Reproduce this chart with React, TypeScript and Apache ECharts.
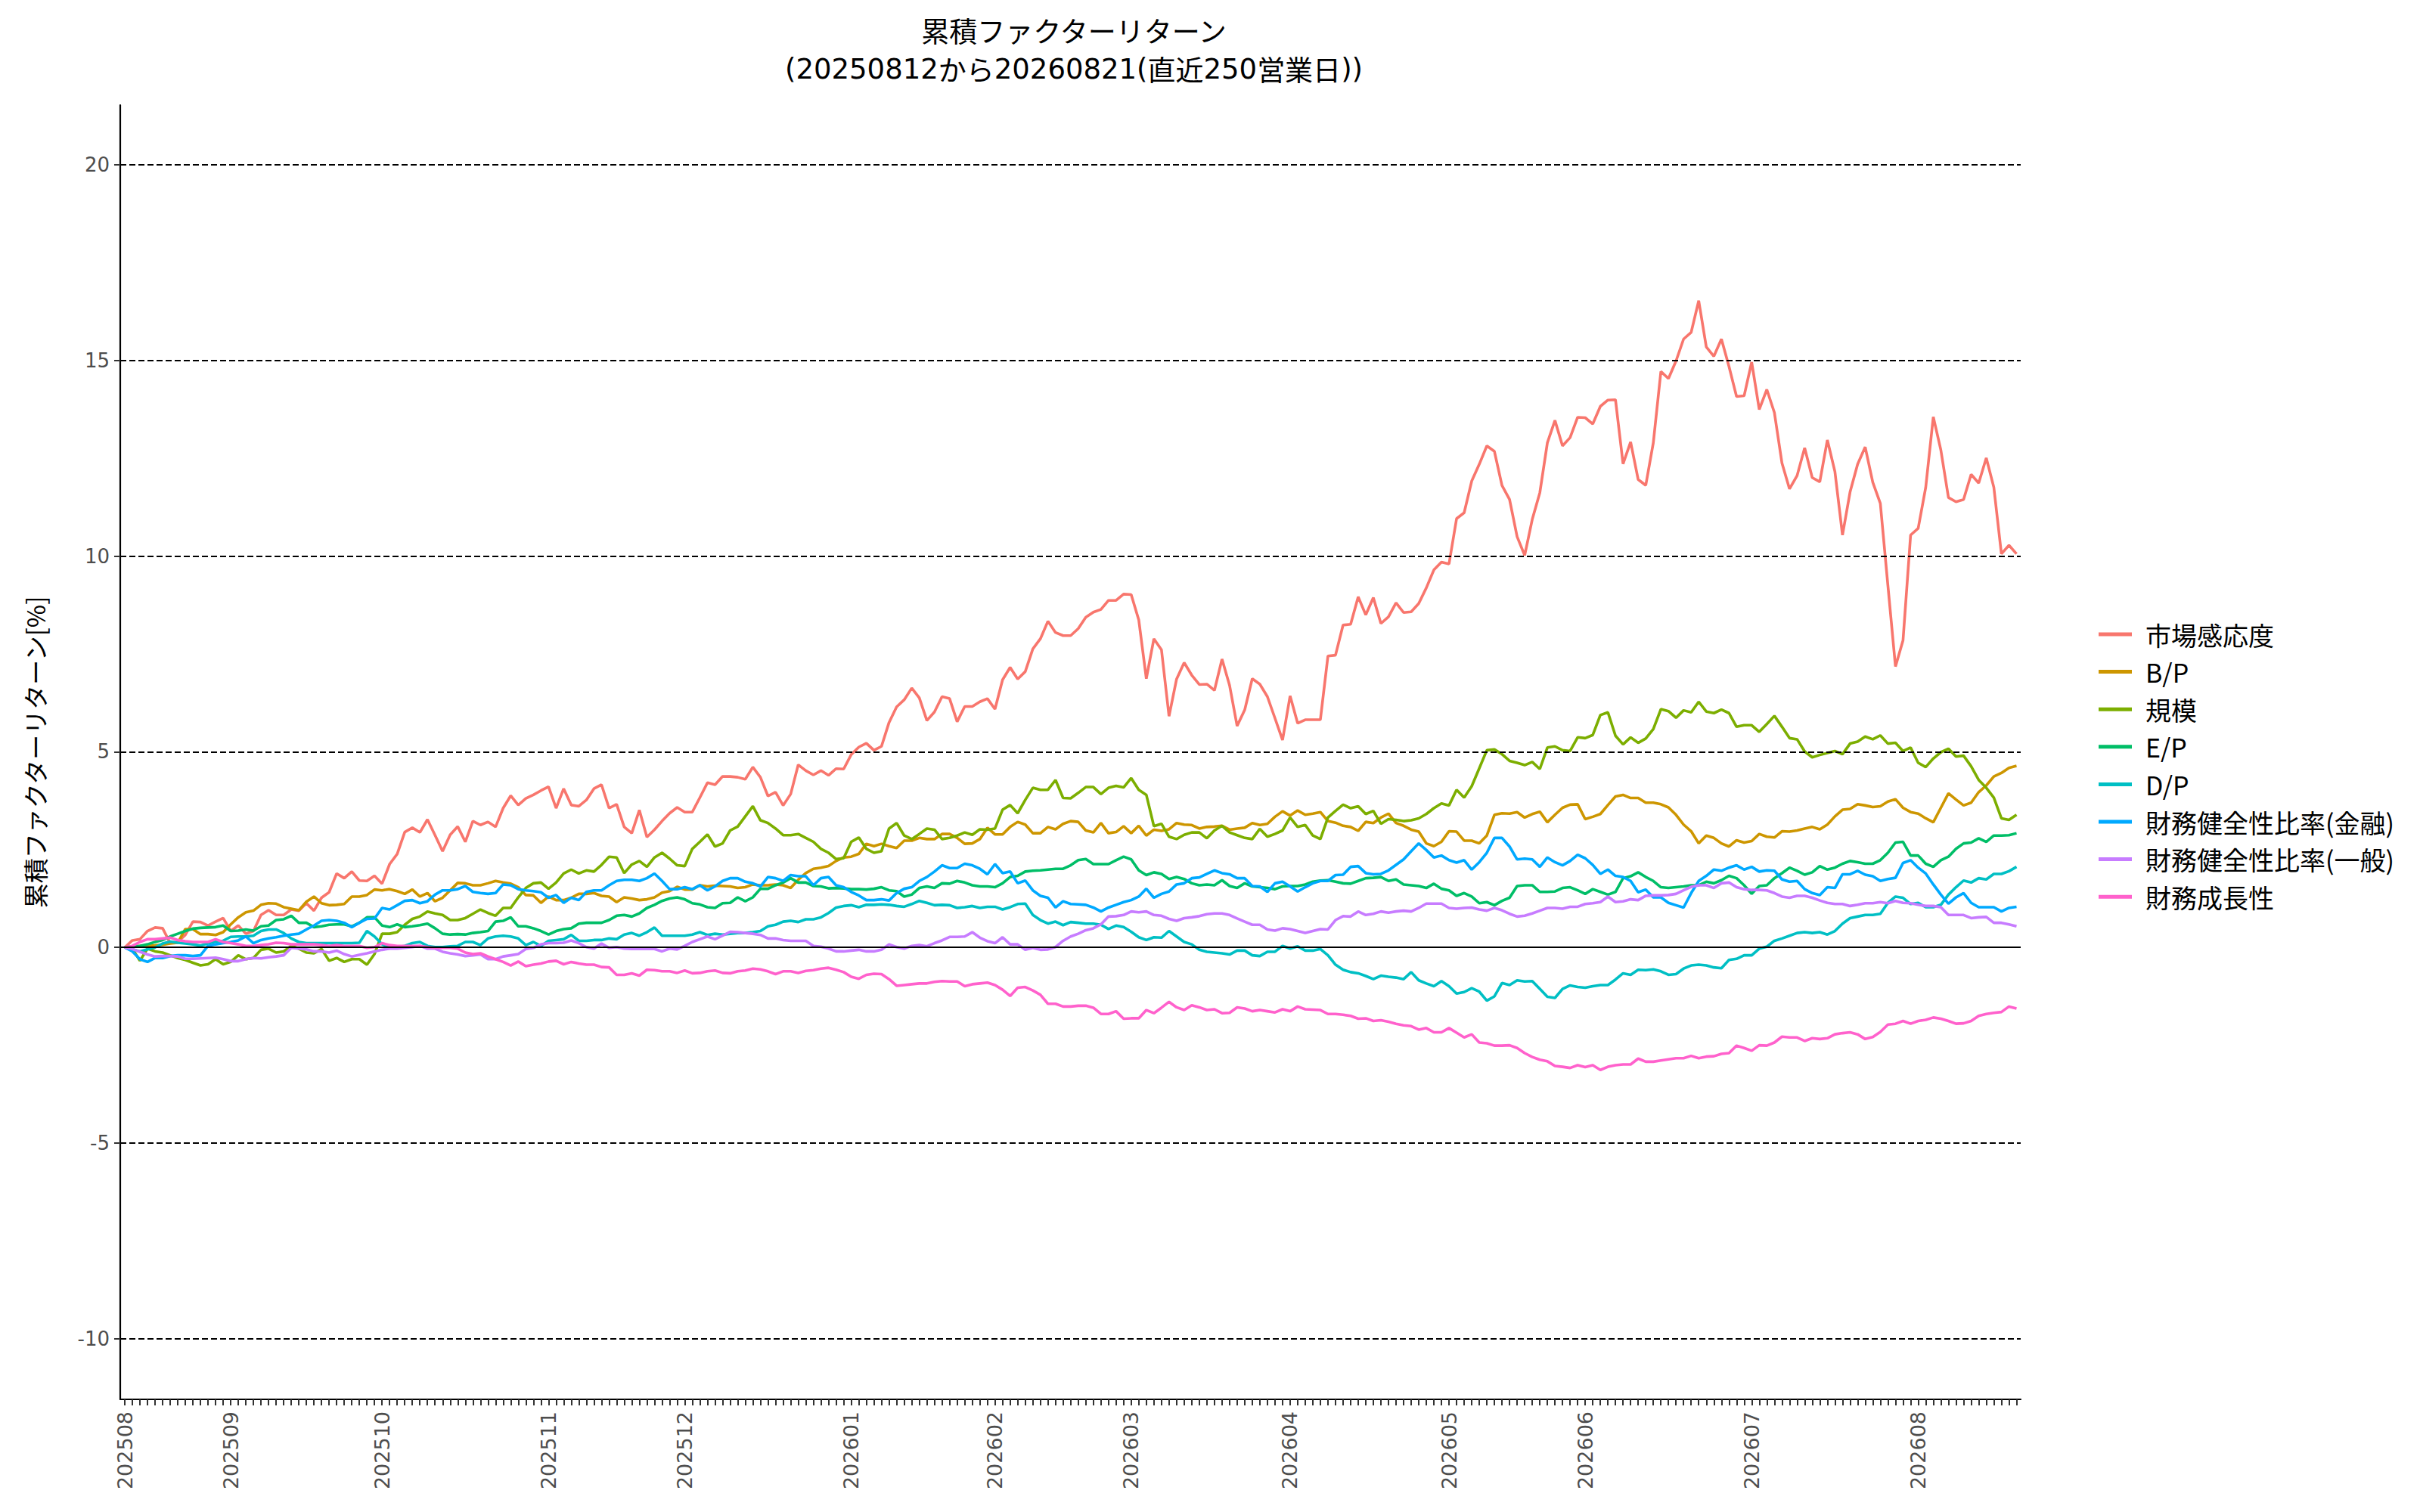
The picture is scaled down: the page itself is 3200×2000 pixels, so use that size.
import React, { useEffect, useRef } from "react";
import * as echarts from "echarts";

// business days per month (YYYYMM, day numbers)
const MONTH_DAYS: [string, number[]][] = [
  ["202508", [12, 13, 14, 15, 18, 19, 20, 21, 22, 25, 26, 27, 28, 29]],
  ["202509", [1, 2, 3, 4, 5, 8, 9, 10, 11, 12, 16, 17, 18, 19, 22, 24, 25, 26, 29, 30]],
  ["202510", [1, 2, 3, 6, 7, 8, 9, 10, 14, 15, 16, 17, 20, 21, 22, 23, 24, 27, 28, 29, 30, 31]],
  ["202511", [4, 5, 6, 7, 10, 11, 12, 13, 14, 17, 18, 19, 20, 21, 25, 26, 27, 28]],
  ["202512", [1, 2, 3, 4, 5, 8, 9, 10, 11, 12, 15, 16, 17, 18, 19, 22, 23, 24, 25, 26, 29, 30]],
  ["202601", [5, 6, 7, 8, 9, 13, 14, 15, 16, 19, 20, 21, 22, 23, 26, 27, 28, 29, 30]],
  ["202602", [2, 3, 4, 5, 6, 9, 10, 12, 13, 16, 17, 18, 19, 20, 24, 25, 26, 27]],
  ["202603", [2, 3, 4, 5, 6, 9, 10, 11, 12, 13, 16, 17, 18, 19, 23, 24, 25, 26, 27, 30, 31]],
  ["202604", [1, 2, 3, 6, 7, 8, 9, 10, 13, 14, 15, 16, 17, 20, 21, 22, 23, 24, 27, 28, 30]],
  ["202605", [1, 7, 8, 11, 12, 13, 14, 15, 18, 19, 20, 21, 22, 25, 26, 27, 28, 29]],
  ["202606", [1, 2, 3, 4, 5, 8, 9, 10, 11, 12, 15, 16, 17, 18, 19, 22, 23, 24, 25, 26, 29, 30]],
  ["202607", [1, 2, 3, 6, 7, 8, 9, 10, 13, 14, 15, 16, 17, 21, 22, 23, 24, 27, 28, 29, 30, 31]],
  ["202608", [3, 4, 5, 6, 7, 10, 12, 13, 14, 17, 18, 19, 20, 21]],
];

const TITLE_LINE1 = "累積ファクターリターン";
// second title line split into digit / CJK runs
const TITLE_LINE2_PARTS: [string, string][] = [
  ["d", "(20250812"],
  ["c", "から"],
  ["d", "20260821("],
  ["c", "直近"],
  ["d", "250"],
  ["c", "営業日"],
  ["d", "))"],
];
const Y_TITLE = "累積ファクターリターン[%]";

const SERIES_NAMES = [
  "市場感応度",
  "B/P",
  "規模",
  "E/P",
  "D/P",
  "財務健全性比率(金融)",
  "財務健全性比率(一般)",
  "財務成長性",
];
const SERIES_COLORS = ["#F8766D", "#CD9600", "#7CAE00", "#00BE67", "#00BFC4", "#00A9FF", "#C77CFF", "#FF61CC"];

const Y_TICKS = [-10, -5, 0, 5, 10, 15, 20];
const Y_GRID = [-10, -5, 5, 10, 15, 20];

const market = [
  0, 0.18, 0.21, 0.42, 0.51, 0.49, 0.11, 0.14, 0.32, 0.66,
  0.65, 0.56, 0.66, 0.75, 0.42, 0.56, 0.35, 0.42, 0.83, 0.95,
  0.83, 0.83, 0.97, 0.94, 1.13, 0.94, 1.27, 1.41, 1.89, 1.77,
  1.94, 1.71, 1.70, 1.83, 1.63, 2.13, 2.39, 2.95, 3.06, 2.94,
  3.27, 2.87, 2.46, 2.88, 3.09, 2.70, 3.23, 3.13, 3.21, 3.08,
  3.56, 3.88, 3.64, 3.81, 3.90, 4.01, 4.11, 3.56, 4.06, 3.64,
  3.61, 3.77, 4.06, 4.16, 3.56, 3.66, 3.08, 2.92, 3.51, 2.82,
  3.01, 3.23, 3.43, 3.58, 3.46, 3.46, 3.83, 4.21, 4.16, 4.37,
  4.37, 4.35, 4.30, 4.61, 4.35, 3.87, 3.97, 3.63, 3.92, 4.67,
  4.52, 4.41, 4.52, 4.40, 4.57, 4.56, 4.93, 5.12, 5.22, 5.04,
  5.14, 5.75, 6.15, 6.33, 6.63, 6.38, 5.80, 6.02, 6.41, 6.36,
  5.77, 6.16, 6.16, 6.28, 6.36, 6.09, 6.84, 7.16, 6.86, 7.05,
  7.63, 7.89, 8.34, 8.05, 7.97, 7.97, 8.15, 8.44, 8.57, 8.64,
  8.87, 8.87, 9.03, 9.02, 8.37, 6.87, 7.89, 7.61, 5.91, 6.86,
  7.28, 6.96, 6.72, 6.73, 6.57, 7.37, 6.70, 5.66, 6.07, 6.87,
  6.73, 6.41, 5.86, 5.30, 6.43, 5.73, 5.82, 5.82, 5.82, 7.45,
  7.47, 8.24, 8.26, 8.96, 8.50, 8.94, 8.28, 8.45, 8.81, 8.56,
  8.58, 8.79, 9.19, 9.65, 9.85, 9.80, 10.96, 11.11, 11.92, 12.35,
  12.82, 12.68, 11.81, 11.45, 10.50, 10.02, 10.94, 11.62, 12.90, 13.47,
  12.82, 13.03, 13.55, 13.54, 13.38, 13.83, 13.99, 14.00, 12.36, 12.92,
  11.96, 11.81, 12.90, 14.72, 14.54, 14.99, 15.55, 15.72, 16.53, 15.35,
  15.11, 15.55, 14.85, 14.08, 14.10, 14.96, 13.75, 14.26, 13.67, 12.38,
  11.72, 12.06, 12.77, 12.01, 11.90, 12.97, 12.16, 10.54, 11.64, 12.35,
  12.79, 11.89, 11.35, 9.25, 7.18, 7.85, 10.54, 10.71, 11.76, 13.56,
  12.71, 11.50, 11.39, 11.45, 12.09, 11.87, 12.51, 11.76, 10.06, 10.28,
  10.06,
];

const bp = [
  0, 0.03, 0.04, 0.04, 0.05, 0.07, 0.10, 0.12, 0.47, 0.47,
  0.34, 0.34, 0.32, 0.39, 0.59, 0.77, 0.90, 0.94, 1.09, 1.13,
  1.12, 1.03, 0.99, 0.95, 1.17, 1.30, 1.13, 1.08, 1.09, 1.11,
  1.30, 1.30, 1.34, 1.48, 1.46, 1.49, 1.44, 1.37, 1.48, 1.30,
  1.39, 1.18, 1.27, 1.46, 1.65, 1.64, 1.59, 1.59, 1.64, 1.70,
  1.66, 1.63, 1.54, 1.34, 1.33, 1.14, 1.30, 1.21, 1.21, 1.27,
  1.37, 1.37, 1.39, 1.32, 1.30, 1.16, 1.28, 1.25, 1.21, 1.23,
  1.28, 1.40, 1.44, 1.55, 1.48, 1.48, 1.59, 1.56, 1.58, 1.57,
  1.56, 1.52, 1.54, 1.61, 1.59, 1.59, 1.61, 1.59, 1.52, 1.73,
  1.90, 2.01, 2.04, 2.08, 2.21, 2.30, 2.32, 2.39, 2.65, 2.59,
  2.65, 2.59, 2.54, 2.73, 2.73, 2.80, 2.77, 2.77, 2.90, 2.90,
  2.80, 2.65, 2.66, 2.77, 3.06, 2.89, 2.89, 3.08, 3.21, 3.14,
  2.92, 2.92, 3.08, 3.02, 3.16, 3.23, 3.21, 2.99, 2.94, 3.18,
  2.92, 2.95, 3.10, 2.92, 3.11, 2.86, 3.01, 2.98, 3.02, 3.18,
  3.14, 3.13, 3.04, 3.08, 3.09, 3.11, 3.01, 3.04, 3.06, 3.18,
  3.13, 3.16, 3.34, 3.48, 3.37, 3.50, 3.39, 3.42, 3.46, 3.23,
  3.19, 3.11, 3.08, 2.98, 3.21, 3.18, 3.32, 3.42, 3.18, 3.11,
  3.01, 2.96, 2.66, 2.59, 2.70, 2.97, 2.96, 2.73, 2.73, 2.66,
  2.86, 3.39, 3.43, 3.42, 3.46, 3.32, 3.41, 3.47, 3.20, 3.39,
  3.57, 3.65, 3.66, 3.28, 3.34, 3.41, 3.64, 3.86, 3.90, 3.82,
  3.82, 3.70, 3.70, 3.66, 3.58, 3.39, 3.14, 2.97, 2.66, 2.86,
  2.80, 2.66, 2.58, 2.74, 2.68, 2.72, 2.90, 2.83, 2.81, 2.97,
  2.96, 2.99, 3.04, 3.08, 3.02, 3.14, 3.35, 3.52, 3.54, 3.66,
  3.63, 3.59, 3.61, 3.73, 3.79, 3.57, 3.46, 3.42, 3.30, 3.20,
  3.57, 3.94, 3.78, 3.63, 3.70, 3.97, 4.14, 4.37, 4.46, 4.59,
  4.64,
];

const size = [
  0, -0.03, -0.34, -0.03, -0.10, -0.13, -0.20, -0.27, -0.32, -0.39,
  -0.46, -0.43, -0.30, -0.43, -0.37, -0.20, -0.30, -0.27, -0.06, -0.03,
  -0.13, -0.10, 0.04, -0.03, -0.13, -0.15, -0.04, -0.34, -0.27, -0.37,
  -0.30, -0.30, -0.44, -0.17, 0.35, 0.35, 0.39, 0.58, 0.73, 0.79,
  0.92, 0.87, 0.83, 0.70, 0.70, 0.75, 0.86, 0.97, 0.88, 0.81,
  1.01, 1.01, 1.28, 1.52, 1.64, 1.66, 1.50, 1.66, 1.89, 1.99,
  1.89, 1.97, 1.94, 2.11, 2.32, 2.30, 1.90, 2.12, 2.21, 2.06,
  2.30, 2.42, 2.27, 2.10, 2.08, 2.52, 2.70, 2.89, 2.58, 2.66,
  2.99, 3.09, 3.35, 3.61, 3.25, 3.18, 3.04, 2.87, 2.87, 2.90,
  2.80, 2.70, 2.52, 2.42, 2.26, 2.28, 2.70, 2.81, 2.52, 2.42,
  2.46, 3.04, 3.18, 2.86, 2.77, 2.90, 3.04, 3.01, 2.77, 2.80,
  2.86, 2.94, 2.88, 3.02, 3.01, 3.04, 3.52, 3.64, 3.43, 3.77,
  4.08, 4.03, 4.03, 4.28, 3.82, 3.81, 3.95, 4.10, 4.10, 3.92,
  4.08, 4.13, 4.09, 4.33, 4.03, 3.90, 3.10, 3.16, 2.83, 2.77,
  2.88, 2.94, 2.94, 2.79, 2.99, 3.11, 2.94, 2.87, 2.80, 2.77,
  3.03, 2.83, 2.90, 2.99, 3.32, 3.08, 3.13, 2.86, 2.77, 3.32,
  3.49, 3.65, 3.56, 3.61, 3.41, 3.49, 3.16, 3.28, 3.26, 3.23,
  3.25, 3.30, 3.41, 3.56, 3.68, 3.63, 4.03, 3.83, 4.12, 4.58,
  5.04, 5.06, 4.94, 4.77, 4.72, 4.66, 4.74, 4.56, 5.11, 5.14,
  5.04, 5.02, 5.37, 5.35, 5.43, 5.94, 6.01, 5.41, 5.19, 5.37,
  5.23, 5.34, 5.58, 6.09, 6.04, 5.87, 6.06, 6.01, 6.28, 6.03,
  5.99, 6.08, 5.99, 5.64, 5.68, 5.68, 5.51, 5.71, 5.92, 5.64,
  5.35, 5.32, 5.01, 4.86, 4.92, 4.97, 5.02, 4.94, 5.21, 5.26,
  5.39, 5.32, 5.42, 5.21, 5.23, 5.02, 5.11, 4.72, 4.61, 4.83,
  4.99, 5.08, 4.88, 4.90, 4.63, 4.28, 4.08, 3.83, 3.30, 3.26,
  3.39,
];

const ep = [
  0, 0.03, 0.04, 0.08, 0.14, 0.19, 0.28, 0.35, 0.42, 0.48,
  0.50, 0.51, 0.52, 0.56, 0.42, 0.43, 0.46, 0.43, 0.54, 0.56,
  0.70, 0.72, 0.81, 0.63, 0.63, 0.52, 0.54, 0.58, 0.59, 0.59,
  0.54, 0.63, 0.77, 0.77, 0.56, 0.52, 0.59, 0.52, 0.54, 0.57,
  0.61, 0.49, 0.35, 0.33, 0.34, 0.33, 0.37, 0.39, 0.42, 0.66,
  0.68, 0.77, 0.54, 0.54, 0.49, 0.42, 0.33, 0.42, 0.47, 0.49,
  0.61, 0.63, 0.63, 0.63, 0.70, 0.81, 0.83, 0.79, 0.87, 1.01,
  1.09, 1.19, 1.25, 1.28, 1.23, 1.13, 1.10, 1.03, 1.01, 1.13,
  1.14, 1.28, 1.18, 1.28, 1.50, 1.50, 1.59, 1.66, 1.77, 1.66,
  1.66, 1.57, 1.56, 1.51, 1.52, 1.51, 1.49, 1.49, 1.48, 1.50,
  1.54, 1.46, 1.44, 1.30, 1.35, 1.52, 1.56, 1.52, 1.64, 1.63,
  1.70, 1.66, 1.59, 1.56, 1.56, 1.54, 1.64, 1.80, 1.83, 1.94,
  1.96, 1.97, 1.99, 2.01, 2.01, 2.10, 2.23, 2.26, 2.13, 2.13,
  2.13, 2.23, 2.32, 2.25, 1.97, 1.85, 1.92, 1.88, 1.75, 1.80,
  1.75, 1.64, 1.59, 1.61, 1.59, 1.72, 1.57, 1.52, 1.64, 1.56,
  1.54, 1.52, 1.49, 1.56, 1.57, 1.57, 1.61, 1.68, 1.71, 1.72,
  1.68, 1.64, 1.63, 1.70, 1.77, 1.78, 1.80, 1.70, 1.74, 1.61,
  1.59, 1.57, 1.52, 1.63, 1.50, 1.46, 1.32, 1.39, 1.30, 1.13,
  1.16, 1.08, 1.19, 1.27, 1.57, 1.59, 1.59, 1.42, 1.42, 1.43,
  1.52, 1.54, 1.46, 1.37, 1.49, 1.42, 1.35, 1.42, 1.77, 1.82,
  1.92, 1.80, 1.70, 1.54, 1.52, 1.54, 1.56, 1.59, 1.59, 1.68,
  1.64, 1.72, 1.83, 1.77, 1.59, 1.37, 1.57, 1.59, 1.77, 1.90,
  2.04, 1.96, 1.86, 1.92, 2.08, 1.99, 2.04, 2.14, 2.21, 2.18,
  2.14, 2.14, 2.23, 2.42, 2.68, 2.70, 2.35, 2.35, 2.14, 2.06,
  2.23, 2.32, 2.52, 2.66, 2.68, 2.79, 2.70, 2.86, 2.86, 2.87,
  2.92,
];

const dp = [
  0, -0.05, -0.10, -0.05, 0.00, 0.10, 0.15, 0.12, 0.10, 0.08,
  0.05, 0.10, 0.15, 0.17, 0.27, 0.28, 0.28, 0.30, 0.42, 0.46,
  0.46, 0.37, 0.23, 0.14, 0.11, 0.11, 0.11, 0.11, 0.11, 0.11,
  0.11, 0.12, 0.42, 0.28, 0.08, 0.01, 0.01, 0.04, 0.11, 0.14,
  0.04, 0.01, 0.01, 0.03, 0.04, 0.14, 0.14, 0.06, 0.23, 0.28,
  0.30, 0.28, 0.23, 0.06, 0.14, 0.04, 0.17, 0.19, 0.21, 0.32,
  0.17, 0.17, 0.19, 0.19, 0.23, 0.21, 0.33, 0.37, 0.30, 0.39,
  0.51, 0.30, 0.30, 0.30, 0.30, 0.33, 0.39, 0.32, 0.35, 0.33,
  0.35, 0.37, 0.37, 0.39, 0.42, 0.54, 0.58, 0.66, 0.68, 0.65,
  0.72, 0.72, 0.77, 0.88, 1.02, 1.06, 1.08, 1.03, 1.09, 1.09,
  1.10, 1.09, 1.06, 1.04, 1.11, 1.19, 1.14, 1.08, 1.09, 1.08,
  1.01, 1.03, 1.06, 1.01, 1.04, 1.04, 0.97, 1.03, 1.11, 1.12,
  0.83, 0.70, 0.61, 0.66, 0.57, 0.65, 0.63, 0.61, 0.61, 0.58,
  0.47, 0.56, 0.52, 0.40, 0.26, 0.19, 0.26, 0.25, 0.42, 0.28,
  0.14, 0.08, -0.06, -0.11, -0.13, -0.15, -0.18, -0.08, -0.08, -0.20,
  -0.22, -0.11, -0.11, 0.04, -0.03, 0.03, -0.08, -0.08, -0.04, -0.20,
  -0.44, -0.57, -0.63, -0.66, -0.73, -0.81, -0.72, -0.75, -0.77, -0.81,
  -0.63, -0.84, -0.92, -0.99, -0.86, -0.99, -1.18, -1.14, -1.04, -1.13,
  -1.36, -1.25, -0.91, -0.96, -0.84, -0.87, -0.86, -1.06, -1.26, -1.29,
  -1.06, -0.97, -1.01, -1.03, -0.99, -0.96, -0.96, -0.82, -0.66, -0.70,
  -0.57, -0.58, -0.56, -0.61, -0.70, -0.68, -0.54, -0.46, -0.44, -0.46,
  -0.51, -0.53, -0.32, -0.29, -0.20, -0.20, -0.03, 0.02, 0.17, 0.23,
  0.30, 0.37, 0.39, 0.37, 0.39, 0.33, 0.42, 0.61, 0.75, 0.79,
  0.83, 0.83, 0.86, 1.14, 1.30, 1.27, 1.11, 1.14, 1.03, 1.03,
  1.09, 1.35, 1.54, 1.71, 1.66, 1.77, 1.74, 1.88, 1.88, 1.95,
  2.06,
];

const finHealthFin = [
  0, -0.10, -0.30, -0.37, -0.27, -0.27, -0.22, -0.20, -0.20, -0.22,
  -0.20, 0.04, 0.08, 0.11, 0.14, 0.18, 0.28, 0.11, 0.19, 0.23,
  0.26, 0.30, 0.33, 0.35, 0.46, 0.56, 0.68, 0.70, 0.68, 0.63,
  0.52, 0.63, 0.73, 0.74, 1.01, 0.97, 1.08, 1.19, 1.21, 1.13,
  1.18, 1.35, 1.46, 1.46, 1.49, 1.57, 1.42, 1.39, 1.37, 1.39,
  1.61, 1.59, 1.49, 1.46, 1.44, 1.41, 1.27, 1.34, 1.14, 1.27,
  1.21, 1.42, 1.46, 1.46, 1.59, 1.70, 1.73, 1.73, 1.70, 1.77,
  1.89, 1.70, 1.49, 1.49, 1.54, 1.49, 1.59, 1.46, 1.56, 1.70,
  1.77, 1.77, 1.68, 1.64, 1.56, 1.80, 1.77, 1.70, 1.85, 1.82,
  1.82, 1.59, 1.77, 1.80, 1.59, 1.54, 1.42, 1.33, 1.21, 1.21,
  1.23, 1.20, 1.39, 1.50, 1.54, 1.70, 1.80, 1.94, 2.10, 2.03,
  2.03, 2.14, 2.10, 2.01, 1.87, 2.13, 1.90, 1.94, 1.64, 1.71,
  1.46, 1.32, 1.27, 1.02, 1.18, 1.11, 1.10, 1.09, 1.02, 0.92,
  1.02, 1.09, 1.16, 1.21, 1.30, 1.50, 1.27, 1.37, 1.43, 1.61,
  1.64, 1.77, 1.79, 1.88, 1.97, 1.90, 1.87, 1.77, 1.77, 1.57,
  1.56, 1.42, 1.64, 1.68, 1.56, 1.43, 1.54, 1.64, 1.70, 1.70,
  1.85, 1.86, 2.06, 2.08, 1.90, 1.87, 1.88, 1.97, 2.11, 2.25,
  2.46, 2.66, 2.49, 2.30, 2.35, 2.23, 2.17, 2.23, 1.99, 2.18,
  2.42, 2.80, 2.80, 2.58, 2.25, 2.27, 2.25, 2.06, 2.30, 2.18,
  2.10, 2.21, 2.37, 2.28, 2.11, 1.88, 1.99, 1.83, 1.80, 1.70,
  1.41, 1.48, 1.28, 1.28, 1.14, 1.08, 1.02, 1.39, 1.70, 1.83,
  1.99, 1.96, 2.04, 2.10, 1.99, 2.06, 1.94, 1.97, 1.96, 1.74,
  1.68, 1.70, 1.49, 1.39, 1.34, 1.54, 1.52, 1.87, 1.87, 1.96,
  1.86, 1.82, 1.70, 1.75, 1.78, 2.16, 2.23, 2.04, 1.89, 1.61,
  1.35, 1.12, 1.28, 1.39, 1.14, 1.03, 1.03, 1.03, 0.92, 1.01,
  1.04,
];

const finHealthGen = [
  0, -0.04, -0.11, -0.18, -0.23, -0.22, -0.22, -0.23, -0.29, -0.29,
  -0.28, -0.27, -0.26, -0.30, -0.35, -0.35, -0.30, -0.27, -0.28, -0.25,
  -0.23, -0.20, -0.01, -0.03, -0.05, -0.10, -0.10, -0.13, -0.08, -0.17,
  -0.23, -0.19, -0.15, -0.10, -0.06, -0.03, -0.03, -0.01, 0.01, 0.04,
  -0.03, -0.03, -0.11, -0.15, -0.18, -0.22, -0.20, -0.18, -0.30, -0.30,
  -0.23, -0.20, -0.17, -0.04, -0.01, 0.08, 0.11, 0.11, 0.12, 0.18,
  0.11, 0.01, -0.03, 0.10, -0.01, 0.01, -0.03, -0.04, -0.04, -0.04,
  -0.04, -0.10, -0.03, -0.05, 0.04, 0.14, 0.21, 0.28, 0.21, 0.30,
  0.40, 0.39, 0.37, 0.35, 0.32, 0.23, 0.23, 0.19, 0.17, 0.17,
  0.17, 0.04, 0.02, -0.03, -0.10, -0.10, -0.08, -0.06, -0.10, -0.10,
  -0.06, 0.08, 0.01, -0.03, 0.04, 0.06, 0.03, 0.11, 0.18, 0.27,
  0.27, 0.28, 0.39, 0.25, 0.16, 0.11, 0.26, 0.08, 0.08, -0.06,
  -0.01, -0.06, -0.05, 0.01, 0.17, 0.28, 0.35, 0.44, 0.49, 0.59,
  0.79, 0.80, 0.83, 0.92, 0.90, 0.92, 0.83, 0.81, 0.73, 0.68,
  0.75, 0.77, 0.80, 0.85, 0.87, 0.87, 0.83, 0.74, 0.66, 0.58,
  0.58, 0.46, 0.43, 0.49, 0.47, 0.42, 0.37, 0.42, 0.47, 0.46,
  0.70, 0.80, 0.79, 0.92, 0.83, 0.86, 0.92, 0.89, 0.92, 0.94,
  0.92, 1.01, 1.12, 1.12, 1.12, 1.01, 0.99, 1.01, 1.02, 0.97,
  0.94, 1.01, 0.95, 0.86, 0.79, 0.81, 0.87, 0.94, 1.01, 1.01,
  0.99, 1.04, 1.04, 1.11, 1.13, 1.16, 1.30, 1.16, 1.18, 1.23,
  1.21, 1.32, 1.33, 1.33, 1.34, 1.37, 1.46, 1.55, 1.59, 1.59,
  1.52, 1.64, 1.66, 1.54, 1.49, 1.47, 1.47, 1.46, 1.39, 1.30,
  1.27, 1.32, 1.32, 1.27, 1.20, 1.14, 1.11, 1.11, 1.06, 1.09,
  1.13, 1.13, 1.16, 1.13, 1.19, 1.14, 1.13, 1.09, 1.06, 1.06,
  1.03, 0.83, 0.83, 0.83, 0.75, 0.77, 0.78, 0.63, 0.63, 0.59,
  0.54,
];

const finGrowth = [
  0, 0.04, 0.14, 0.21, 0.21, 0.23, 0.25, 0.19, 0.16, 0.14,
  0.14, 0.14, 0.21, 0.14, 0.11, 0.08, 0.04, 0.04, 0.06, 0.08,
  0.12, 0.11, 0.08, 0.08, 0.08, 0.08, 0.06, 0.04, 0.06, 0.04,
  0.04, 0.04, -0.01, 0.01, 0.11, 0.06, 0.04, 0.04, 0.04, 0.04,
  0.01, -0.01, -0.01, -0.01, -0.03, -0.13, -0.17, -0.15, -0.23, -0.30,
  -0.37, -0.46, -0.36, -0.48, -0.44, -0.41, -0.36, -0.34, -0.43, -0.37,
  -0.41, -0.44, -0.44, -0.50, -0.51, -0.70, -0.70, -0.66, -0.72, -0.57,
  -0.58, -0.61, -0.61, -0.65, -0.59, -0.66, -0.65, -0.61, -0.59, -0.65,
  -0.66, -0.61, -0.59, -0.54, -0.56, -0.61, -0.68, -0.61, -0.61, -0.65,
  -0.60, -0.58, -0.54, -0.52, -0.57, -0.63, -0.75, -0.80, -0.70, -0.67,
  -0.68, -0.81, -0.98, -0.96, -0.94, -0.92, -0.92, -0.88, -0.86, -0.87,
  -0.87, -0.99, -0.94, -0.92, -0.90, -0.96, -1.08, -1.24, -1.03, -1.01,
  -1.10, -1.21, -1.44, -1.44, -1.51, -1.51, -1.49, -1.49, -1.54, -1.70,
  -1.70, -1.63, -1.82, -1.81, -1.81, -1.60, -1.68, -1.54, -1.39, -1.53,
  -1.60, -1.48, -1.53, -1.60, -1.58, -1.68, -1.67, -1.53, -1.56, -1.63,
  -1.60, -1.63, -1.66, -1.58, -1.63, -1.51, -1.58, -1.59, -1.60, -1.70,
  -1.70, -1.72, -1.75, -1.82, -1.81, -1.88, -1.86, -1.90, -1.95, -1.99,
  -2.01, -2.10, -2.06, -2.17, -2.17, -2.06, -2.18, -2.30, -2.22, -2.43,
  -2.45, -2.51, -2.51, -2.50, -2.57, -2.70, -2.80, -2.87, -2.91, -3.03,
  -3.05, -3.08, -3.01, -3.06, -3.01, -3.13, -3.05, -3.01, -2.99, -2.99,
  -2.84, -2.92, -2.92, -2.89, -2.86, -2.83, -2.83, -2.77, -2.83, -2.79,
  -2.78, -2.72, -2.70, -2.51, -2.57, -2.64, -2.50, -2.51, -2.43, -2.28,
  -2.30, -2.30, -2.39, -2.32, -2.34, -2.32, -2.22, -2.19, -2.17, -2.22,
  -2.34, -2.29, -2.16, -1.97, -1.95, -1.88, -1.95, -1.88, -1.85, -1.79,
  -1.82, -1.88, -1.95, -1.94, -1.88, -1.75, -1.70, -1.67, -1.65, -1.51,
  -1.56,
];

const SERIES_VALUES = [market, bp, size, ep, dp, finHealthFin, finHealthGen, finGrowth];

const FONT_CJK = '"Noto Sans CJK JP", "Noto Sans", sans-serif';
const FONT_TICK = '"DejaVu Sans", sans-serif';

export default function App() {
  const ref = useRef<HTMLDivElement>(null);

  useEffect(() => {
    if (!ref.current) return;
    const chart = echarts.init(ref.current, undefined, { renderer: "svg" });

    const categories: string[] = [];
    const monthStarts: number[] = [];
    MONTH_DAYS.forEach(([ym, days]) => {
      monthStarts.push(categories.length);
      days.forEach((d) => categories.push(ym + String(d).padStart(2, "0")));
    });
    const allIdx = categories.map((_, i) => i);

    const lineSeries = SERIES_NAMES.map((name, k) => ({
      name,
      type: "line",
      data: SERIES_VALUES[k].map((v, i) => [i, v]),
      showSymbol: false,
      symbol: "none",
      color: SERIES_COLORS[k],
      lineStyle: { width: 3.6, color: SERIES_COLORS[k] },
      z: 3,
      silent: true,
    }));

    const line2Text = TITLE_LINE2_PARTS.map(([k, s]) => "{" + k + "|" + s + "}").join("");

    const option: any = {
      animation: false,
      backgroundColor: "#ffffff",
      grid: { left: 159, right: 3200 - 2672, top: 139, bottom: 2000 - 1851, containLabel: false },
      graphic: [
        {
          type: "text",
          x: 1420,
          y: 40,
          style: {
            text: TITLE_LINE1,
            fontSize: 37,
            fontFamily: FONT_CJK,
            fill: "#000",
            align: "center",
            verticalAlign: "middle",
            textAlign: "center",
            textVerticalAlign: "middle",
          },
        },
        {
          type: "text",
          x: 1420,
          y: 91,
          style: {
            text: line2Text,
            align: "center",
            verticalAlign: "middle",
            textAlign: "center",
            textVerticalAlign: "middle",
            fill: "#000",
            rich: {
              c: { fontSize: 37, fontFamily: FONT_CJK, fill: "#000", color: "#000" },
              d: { fontSize: 37, fontFamily: FONT_TICK, fill: "#000", color: "#000" },
            },
          },
        },
      ],
      legend: {
        data: SERIES_NAMES,
        orient: "vertical",
        left: 2770,
        top: 814,
        itemWidth: 44,
        itemHeight: 5,
        itemGap: 9.6,
        icon: "rect",
        textStyle: {
          fontSize: 34,
          lineHeight: 40,
          fontFamily: FONT_CJK,
          color: "#000",
          padding: [0, 0, 0, 13],
        },
        selectedMode: false,
      },
      xAxis: {
        type: "value",
        min: -0.6,
        max: 250.55,
        axisLine: { show: true, onZero: false, lineStyle: { color: "#000", width: 2.2 } },
        axisTick: { show: true, customValues: allIdx, length: 8, lineStyle: { color: "#333", width: 2 } },
        axisLabel: {
          show: true,
          customValues: monthStarts,
          rotate: 90,
          margin: 16,
          fontSize: 27,
          fontFamily: FONT_TICK,
          color: "#4d4d4d",
          formatter: (v: number) => {
            const c = categories[Math.round(v)];
            return c ? c.slice(0, 6) : "";
          },
        },
        splitLine: { show: false },
      },
      yAxis: {
        type: "value",
        min: -11.55,
        max: 21.53,
        name: Y_TITLE,
        nameLocation: "middle",
        nameGap: 97,
        nameTextStyle: { fontSize: 33, fontFamily: FONT_CJK, color: "#000" },
        axisLine: { show: true, onZero: false, lineStyle: { color: "#000", width: 2.2 } },
        axisTick: { show: true, customValues: Y_TICKS, length: 8, lineStyle: { color: "#333", width: 2 } },
        axisLabel: {
          show: true,
          customValues: Y_TICKS,
          margin: 14,
          fontSize: 26,
          fontFamily: FONT_TICK,
          color: "#4d4d4d",
          formatter: (v: number) => String(v),
        },
        splitLine: { show: false },
      },
      series: [
        {
          type: "line",
          data: [],
          silent: true,
          z: 1,
          markLine: {
            silent: true,
            symbol: ["none", "none"],
            label: { show: false },
            emphasis: { disabled: true },
            lineStyle: { color: "#000", width: 2, type: [8, 4] },
            data: [
              ...Y_GRID.map((y) => ({ yAxis: y })),
              { yAxis: 0, lineStyle: { color: "#000", width: 2.2, type: "solid" } },
            ],
          },
        },
        ...lineSeries,
      ],
    };

    chart.setOption(option);
    return () => chart.dispose();
  }, []);

  return (
    <div
      ref={ref}
      style={{ position: "fixed", left: 0, top: 0, width: 3200, height: 2000, background: "#fff" }}
    />
  );
}
